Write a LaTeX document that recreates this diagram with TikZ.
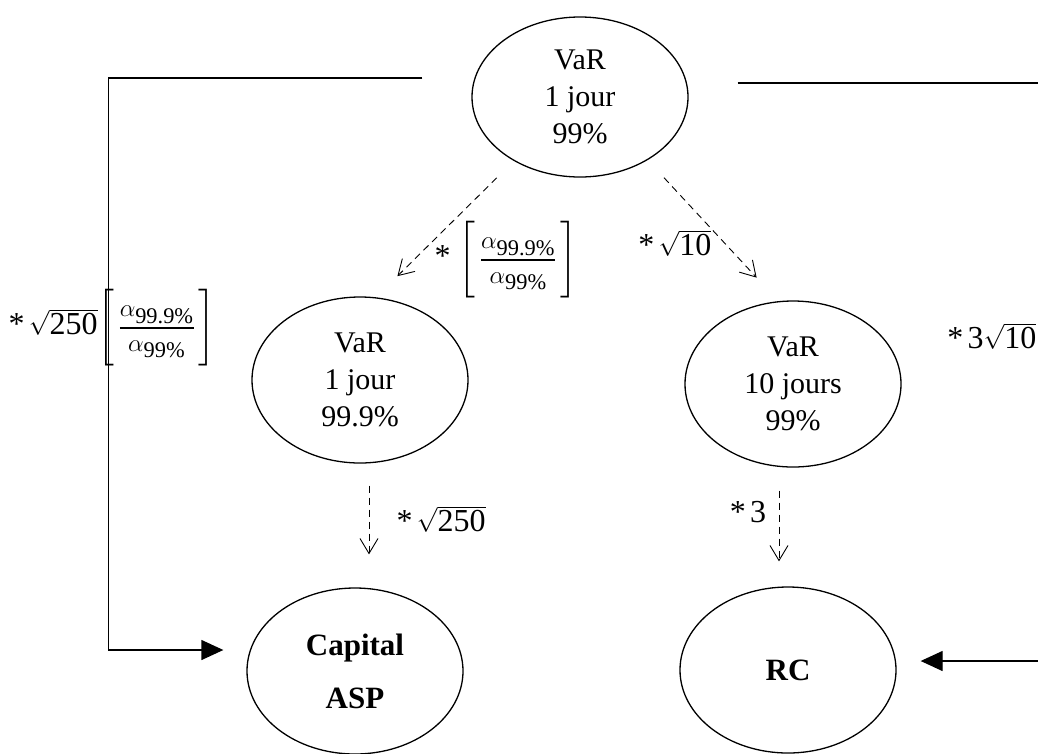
\documentclass[tikz,border=0pt]{standalone}
\usepackage{amsmath}
\usepackage{amssymb}
\usepackage{fontspec}
\setmainfont{Liberation Serif}
\usepackage{tikz}
\usetikzlibrary{arrows.meta,shapes.geometric}

\newcommand{\alratio}{\left[\,\dfrac{\alpha_{\text{99.9\%}}}{\alpha_{\text{99\%}}}\vcenter{\hbox{\rule{0pt}{80pt}}}\,\right]}
\newcommand{\fois}{\text{*}\,}

\begin{document}
\begin{tikzpicture}[x=1pt,y=-1pt,
    line width=1.3pt,
    mesure/.style={ellipse,draw,inner sep=0pt,minimum width=216pt,minimum height=166pt,
      align=center,font=\fontsize{30}{37}\selectfont},
    resultat/.style={mesure,font=\fontsize{31}{53}\selectfont\bfseries},
    coef/.style={inner sep=0pt,font=\fontsize{32}{38}\selectfont},
    dasharrow/.style={line width=0.9pt,dash pattern=on 7pt off 5pt,
      -{Straight Barb[length=15pt,width=18pt,line width=0.9pt]}},
    flow/.style={-{Triangle[length=22pt,width=20pt]}}]
    \useasboundingbox (0,0) rectangle (1038,753);
    % les mesures
    \node[mesure,minimum height=160pt] (top) at (580,97) {VaR\\1 jour\\99\%};
    \node[mesure] (mleft) at (360,380) {VaR\\1 jour\\99.9\%};
    \node[mesure] (mright) at (793,384) {VaR\\10 jours\\99\%};
    \node[resultat] (asp) at (355,671) {Capital\\ASP};
    \node[resultat] (rc) at (788,670) {RC};
    % passages
    \draw[dasharrow,shorten <=24pt,shorten >=30pt] (top.224) -- (mleft.79);
    \draw[dasharrow,shorten <=24pt,shorten >=32pt] (top.317) -- (mright.100);
    \draw[dasharrow,shorten <=22pt,shorten >=33pt] ([xshift=9pt]mleft.south) -- ([xshift=14pt]asp.north);
    \draw[dasharrow,shorten <=23pt,shorten >=25pt] ([xshift=-14pt]mright.south) -- ([xshift=-9pt]rc.north);
    \draw[flow] ([xshift=-49pt,yshift=19pt]top.west) -- ++(-314,0) |- ([xshift=-23pt,yshift=21pt]asp.west);
    \draw[flow] ([xshift=49pt,yshift=14pt]top.east) -- ++(330,0) |- ([xshift=24pt,yshift=9pt]rc.east);
    % coefficients
    \node[coef,anchor=west] (kleft) at (8,328) {$\fois\sqrt{\text{250}}\!\alratio$};
    \node[coef] (kmid) at (506,260) {$\fois\alratio$};
    \node[coef,anchor=east] (kten) at (712,243) {$\fois\sqrt{\text{10}}$};
    \node[coef,anchor=east] (kthree) at (1037,336) {$\fois\text{3}\sqrt{\text{10}}$};
    \node[coef,anchor=west] (ksqrt) at (396,519) {$\fois\sqrt{\text{250}}$};
    \node[coef] (kdix) at (748,512) {$\fois\text{3}$};
\end{tikzpicture}
\end{document}
